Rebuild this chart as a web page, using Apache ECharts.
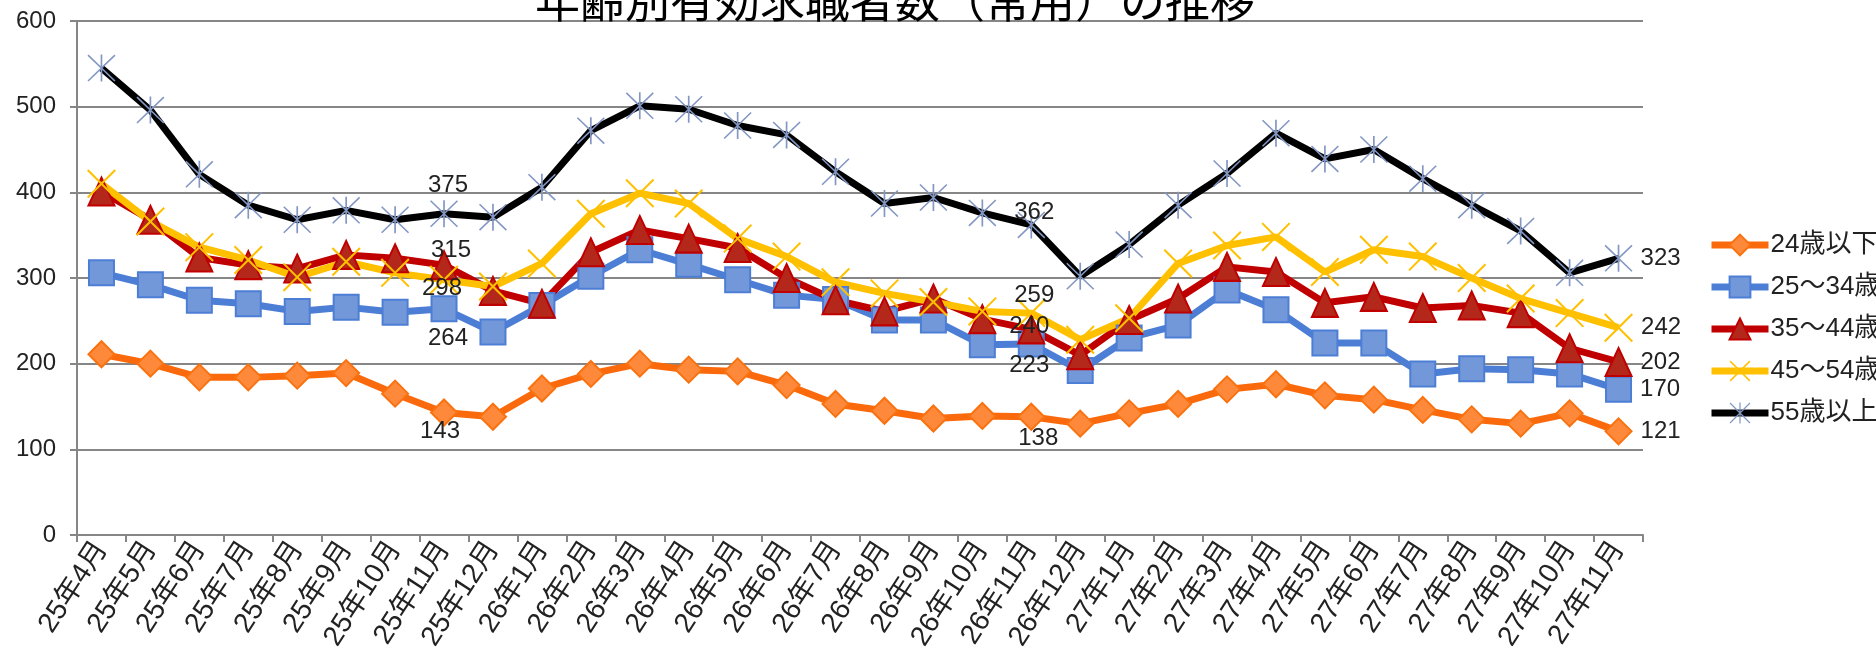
<!DOCTYPE html>
<html>
<head>
<meta charset="utf-8">
<title>年齢別有効求職者数（常用）の推移</title>
<script src="https://cdn.jsdelivr.net/npm/echarts@6/dist/echarts.min.js"></script>
<style>
  body { margin: 0; background: #fff; }
</style>
</head>
<body>
<div id="main" style="width:1876px;height:650px;"></div>
<script type="text/javascript">
// ---- data
var months = ['25年4月', '25年5月', '25年6月', '25年7月', '25年8月', '25年9月', '25年10月', '25年11月', '25年12月',
  '26年1月', '26年2月', '26年3月', '26年4月', '26年5月', '26年6月', '26年7月', '26年8月', '26年9月', '26年10月', '26年11月', '26年12月',
  '27年1月', '27年2月', '27年3月', '27年4月', '27年5月', '27年6月', '27年7月', '27年8月', '27年9月', '27年10月', '27年11月'];
var names = ['24歳以下', '25～34歳', '35～44歳', '45～54歳', '55歳以上'];
var s24 = [211, 200, 184, 184, 186, 189, 165, 143, 138, 171, 188, 200, 193, 191, 175, 153, 145, 136, 139, 138, 130, 142, 153, 170, 176, 163, 158, 146, 135, 130, 142, 121];
var s25 = [306, 292, 274, 270, 261, 266, 260, 264, 237, 268, 302, 333, 316, 298, 280, 275, 251, 251, 222, 223, 192, 230, 245, 286, 263, 224, 224, 188, 194, 193, 188, 170];
var s35 = [401, 368, 324, 315, 311, 327, 323, 315, 285, 270, 330, 356, 346, 335, 300, 274, 261, 276, 252, 240, 210, 251, 276, 313, 307, 271, 278, 265, 268, 259, 218, 202];
var s45 = [410, 366, 336, 321, 301, 319, 306, 298, 290, 317, 375, 399, 387, 346, 325, 295, 282, 272, 261, 259, 228, 253, 317, 338, 348, 307, 333, 325, 300, 276, 259, 242];
var s55 = [545, 496, 421, 385, 368, 379, 368, 375, 371, 406, 472, 501, 497, 478, 467, 424, 387, 394, 376, 362, 302, 339, 385, 422, 469, 439, 450, 416, 385, 355, 306, 323];
var yTicks = [0, 100, 200, 300, 400, 500, 600];

// points that carry a value label (index in months)
var labelIdx = [7, 19, 31];

// ---- styles
var FONT = "'Liberation Sans', 'Noto Sans CJK JP', sans-serif";
var GRID_GRAY = '#868686';
var asterisk = 'path://M47,0L53,0L53,100L47,100ZM0,4L4,0L100,96L96,100ZM96,0L100,4L4,100L0,96Z';
var cross = 'path://M0,5L5,0L100,95L95,100ZM95,0L100,5L5,100L0,95Z';

var styles = [
  { line: '#FA6A0C', symbol: 'diamond', size: [26, 26], fill: '#FF893B', border: '#F9720F',
    offsets: [[-4, 19], [7, 22]] },
  { line: '#4D7ED5', symbol: 'rect', size: [25, 25], fill: '#7398D9', border: '#4D7ED5',
    offsets: [[4, 30], [-2, 21]] },
  { line: '#C00000', symbol: 'triangle', size: [26, 28], fill: '#B3281A', border: '#C00000',
    offsets: [[7, -15], [-2, -3]] },
  { line: '#FFC000', symbol: cross, size: [29, 29], fill: '#FFC000', border: '#FFC000',
    offsets: [[-2, 9], [3, -18]] },
  { line: '#000000', symbol: asterisk, size: [28, 27], fill: '#8397C4', border: '#8397C4',
    offsets: [[4, -28], [3, -13]] }
];

var values = [s24, s25, s35, s45, s55];

var myChart = echarts.init(document.getElementById('main'));

var series = values.map(function (vals, k) {
  var st = styles[k];
  var data = vals.map(function (v, i) {
    var li = labelIdx.indexOf(i);
    if (li < 0) return v;
    if (i === months.length - 1) {
      return { value: v, label: { show: true, position: 'right', distance: 8 } };
    }
    return { value: v, label: { show: true, position: 'inside', offset: st.offsets[li] } };
  });
  var solid = st.symbol === 'rect' || st.symbol === 'diamond' || st.symbol === 'triangle';
  return {
    name: names[k],
    type: 'line',
    data: data,
    symbol: st.symbol,
    symbolSize: st.size,
    showAllSymbol: true,
    lineStyle: { color: st.line, width: 7 },
    itemStyle: { color: st.fill, borderColor: st.border, borderWidth: solid ? 2 : 0 },
    label: { color: '#222', fontSize: 24, fontFamily: FONT },
    emphasis: { disabled: true },
    animation: false
  };
});

var option = {
  backgroundColor: '#fff',
  title: {
    text: '年齢別有効求職者数（常用）の推移',
    left: 530,
    top: -27,
    textStyle: { fontSize: 45, fontWeight: 'normal', color: '#000', fontFamily: "'Noto Sans CJK JP', sans-serif" }
  },
  grid: { left: 77, right: 233, top: 21, bottom: 115, containLabel: false, outerBoundsMode: 'none' },
  legend: {
    orient: 'vertical',
    left: 1703,
    top: 227,
    itemWidth: 57,
    itemHeight: 26,
    itemGap: 16,
    lineStyle: { width: 7 },
    textStyle: { fontSize: 26, color: '#222', fontFamily: FONT, padding: [0, 0, 0, -3] },
    data: names
  },
  xAxis: {
    type: 'category',
    data: months,
    boundaryGap: true,
    axisLine: { lineStyle: { color: GRID_GRAY, width: 2 } },
    axisTick: { show: true, length: 7, lineStyle: { color: GRID_GRAY, width: 2 } },
    axisLabel: { interval: 0, rotate: 57, margin: 9, fontSize: 28, color: '#222', fontFamily: FONT }
  },
  yAxis: {
    type: 'value',
    min: yTicks[0],
    max: yTicks[yTicks.length - 1],
    interval: 100,
    axisLine: { show: true, lineStyle: { color: GRID_GRAY, width: 2 } },
    axisTick: { show: true, length: 7, lineStyle: { color: GRID_GRAY, width: 2 } },
    axisLabel: { margin: 21, fontSize: 24, color: '#222', fontFamily: FONT },
    splitLine: { lineStyle: { color: GRID_GRAY, width: 2 } }
  },
  series: series
};

myChart.setOption(option);
</script>
</body>
</html>
